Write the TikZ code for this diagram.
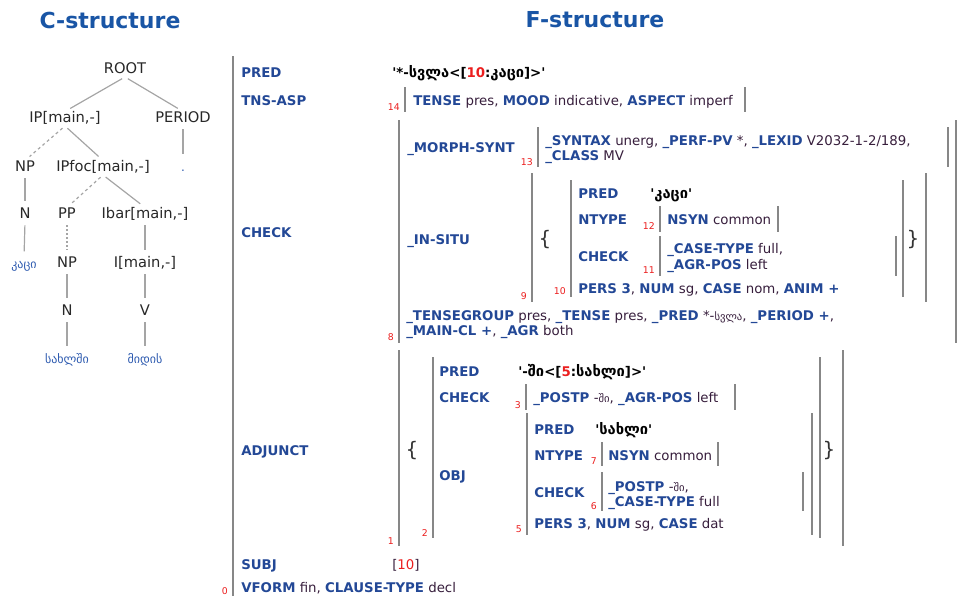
\documentclass[tikz,border=0pt]{standalone}
\usepackage{fontspec}
\setmainfont{DejaVu Sans}
\usetikzlibrary{positioning}
\definecolor{attrblue}{RGB}{35,72,150}
\definecolor{titleblue}{RGB}{25,85,165}
\definecolor{valcol}{RGB}{55,30,60}
\definecolor{idxred}{RGB}{235,30,30}
\definecolor{barcol}{RGB}{135,135,135}
\definecolor{leafblue}{RGB}{45,90,175}
\definecolor{treegray}{RGB}{165,165,165}
\definecolor{treetext}{RGB}{40,40,40}

\newcommand{\fatt}[1]{{\bfseries\color{attrblue}#1}}
\newcommand{\fpred}[1]{{\bfseries\color{black}#1}}
\newcommand{\fidx}[1]{{\color{idxred}#1}}
\newcommand{\kfont}{\fontsize{8}{10}\selectfont}
\newcommand{\kbig}{\fontsize{11}{12}\selectfont}
\newcommand{\q}{\textquotesingle}

\begin{document}
\begin{tikzpicture}[x=0.75pt,y=-0.75pt,
  title/.style={font=\fontsize{16.5}{20}\selectfont\bfseries, text=titleblue},
  cnode/.style={font=\fontsize{11}{13}\selectfont, text=treetext, inner sep=0pt, text height=8pt, text depth=2.5pt, yshift=-1.3pt},
  leaf/.style={font=\fontsize{9}{11}\selectfont, text=leafblue, inner sep=0pt, text height=8pt, text depth=2.5pt, yshift=-1.3pt},
  cedge/.style={treegray, line width=0.9pt, shorten <=2.5pt, shorten >=4.5pt},
  ftxt/.style={font=\fontsize{10}{12}\selectfont, text=valcol, anchor=mid west, inner sep=0pt, yshift=-1.5pt},
  fnum/.style={font=\fontsize{7}{8}\selectfont, text=idxred, anchor=south east, inner sep=0pt},
  fbar/.style={barcol, line width=1.6pt},
  brc/.style={font=\fontsize{15}{17}\selectfont, text=black!80, inner sep=0pt}]
\useasboundingbox (0,0) rectangle (957,596);

% Titles
\node[title] (ctitle) at (110,20) {C-structure};
\node[title] (ftitle) at (595,20) {F-structure};

% C-structure
\node[cnode] (root) at (125,68) {ROOT};
\node[cnode] (ip) at (65,117) {IP[main,-]};
\node[cnode] (period) at (183,117) {PERIOD};
\node[cnode] (np1) at (25,166) {NP};
\node[cnode] (ipfoc) at (103,166) {IPfoc[main,-]};
\node[leaf] (dot) at (183,166) {.};
\node[cnode] (n1) at (25,213) {N};
\node[cnode] (pp) at (67,213) {PP};
\node[cnode] (ibar) at (145,213) {Ibar[main,-]};
\node[leaf] (kaci) at (24,263) {კაცი};
\node[cnode] (np2) at (67,262) {NP};
\node[cnode] (imain) at (145,262) {I[main,-]};
\node[cnode] (n2) at (67,310) {N};
\node[cnode] (v) at (145,310) {V};
\node[leaf] (sakhlshi) at (67,358) {სახლში};
\node[leaf] (midis) at (145,358) {მიდის};

\draw[cedge] (root.south) -- (ip.north);
\draw[cedge] (root.south) -- (period.north);
\draw[cedge, dash pattern=on 2.2pt off 2.2pt] (ip.south) -- (np1.north);
\draw[cedge] (ip.south) -- (ipfoc.north);
\draw[cedge] (period.south) -- (dot.north);
\draw[cedge] (np1.south) -- (n1.north);
\draw[cedge, dash pattern=on 2.2pt off 2.2pt] (ipfoc.south) -- (pp.north);
\draw[cedge] (ipfoc.south) -- (ibar.north);
\draw[cedge] (n1.south) -- (kaci.north);
\draw[cedge, dash pattern=on 1.5pt off 1.5pt] (pp.south) -- (np2.north);
\draw[cedge] (ibar.south) -- (imain.north);
\draw[cedge] (np2.south) -- (n2.north);
\draw[cedge] (imain.south) -- (v.north);
\draw[cedge] (n2.south) -- (sakhlshi.north);
\draw[cedge] (v.south) -- (midis.north);

% F-structure 0
\draw[fbar] (233,56) -- (233,596);
\node[fnum] (i0) at (228,595) {0};
\node[ftxt] (pred0) at (241,72) {\fatt{PRED}};
\node[ftxt] (predv0) at (392,72) {\fpred{\q*-{\kbig სვლა}<[\fidx{10}:{\kbig კაცი}]>\q}};
\node[ftxt] (tns0) at (241,100) {\fatt{TNS-ASP}};
\draw[fbar] (405,87) -- (405,112);
\node[fnum] (i14) at (400,111) {14};
\node[ftxt] (tnsv) at (413,100) {\fatt{TENSE} pres, \fatt{MOOD} indicative, \fatt{ASPECT} imperf};
\draw[fbar] (745,87) -- (745,112);

% CHECK 8
\node[ftxt] (check0) at (241,232) {\fatt{CHECK}};
\draw[fbar] (399,120) -- (399,343);
\node[fnum] (i8) at (394,341) {8};
\draw[fbar] (956,120) -- (956,343);
\node[ftxt] (morph) at (407,147) {\fatt{\_MORPH-SYNT}};
\draw[fbar] (538,127) -- (538,167);
\node[fnum] (i13) at (533,166) {13};
\node[ftxt] (morph1) at (545,140) {\fatt{\_SYNTAX} unerg, \fatt{\_PERF-PV} *, \fatt{\_LEXID} V2032-1-2/189,};
\node[ftxt] (morph2) at (545,155) {\fatt{\_CLASS} MV};
\draw[fbar] (948,127) -- (948,167);

% _IN-SITU 9
\node[ftxt] (insitu) at (407,239) {\fatt{\_IN-SITU}};
\draw[fbar] (532,173) -- (532,302);
\node[fnum] (i9) at (527,300) {9};
\node[brc] (lb1) at (545,240) {\{};
\draw[fbar] (571,180) -- (571,297);
\node[fnum] (i10) at (566,295) {10};
\node[ftxt] (pred10) at (578,193) {\fatt{PRED}};
\node[ftxt] (predv10) at (650,193) {\fpred{\q{\kbig კაცი}\q}};
\node[ftxt] (ntype10) at (578,219) {\fatt{NTYPE}};
\draw[fbar] (660,206) -- (660,232);
\node[fnum] (i12) at (655,230) {12};
\node[ftxt] (nsyn10) at (667,219) {\fatt{NSYN} common};
\draw[fbar] (778,206) -- (778,232);
\node[ftxt] (check10) at (578,256) {\fatt{CHECK}};
\draw[fbar] (660,236) -- (660,276);
\node[fnum] (i11) at (655,274) {11};
\node[ftxt] (check10a) at (667,248) {\fatt{\_CASE-TYPE} full,};
\node[ftxt] (check10b) at (667,264) {\fatt{\_AGR-POS} left};
\draw[fbar] (896,236) -- (896,276);
\node[ftxt] (pers10) at (578,288) {\fatt{PERS 3}, \fatt{NUM} sg, \fatt{CASE} nom, \fatt{ANIM +}};
\draw[fbar] (903,180) -- (903,297);
\node[brc] (rb1) at (913,240) {\}};
\draw[fbar] (926,173) -- (926,302);

% _TENSEGROUP
\node[ftxt] (tg1) at (406,315) {\fatt{\_TENSEGROUP} pres, \fatt{\_TENSE} pres, \fatt{\_PRED} *-{\kfont სვლა}, \fatt{\_PERIOD +},};
\node[ftxt] (tg2) at (406,330) {\fatt{\_MAIN-CL +}, \fatt{\_AGR} both};

% ADJUNCT 1
\node[ftxt] (adj) at (241,450) {\fatt{ADJUNCT}};
\draw[fbar] (399,350) -- (399,546);
\node[fnum] (i1) at (394,545) {1};
\node[brc] (lb2) at (412,451) {\{};
\draw[fbar] (433,357) -- (433,538);
\node[fnum] (i2) at (428,537) {2};
\node[ftxt] (pred2) at (439,371) {\fatt{PRED}};
\node[ftxt] (predv2) at (518,371) {\fpred{\q-{\kbig ში}<[\fidx{5}:{\kbig სახლი}]>\q}};
\node[ftxt] (check2) at (439,397) {\fatt{CHECK}};
\draw[fbar] (526,384) -- (526,410);
\node[fnum] (i3) at (521,409) {3};
\node[ftxt] (check2v) at (533,397) {\fatt{\_POSTP} -{\kfont ში}, \fatt{\_AGR-POS} left};
\draw[fbar] (735,384) -- (735,410);
\node[ftxt] (obj) at (439,475) {\fatt{OBJ}};

% OBJ 5
\draw[fbar] (527,413) -- (527,535);
\node[fnum] (i5) at (522,533) {5};
\node[ftxt] (pred5) at (534,429) {\fatt{PRED}};
\node[ftxt] (predv5) at (595,429) {\fpred{\q{\kbig სახლი}\q}};
\node[ftxt] (ntype5) at (534,455) {\fatt{NTYPE}};
\draw[fbar] (602,442) -- (602,466);
\node[fnum] (i7) at (597,465) {7};
\node[ftxt] (nsyn5) at (608,455) {\fatt{NSYN} common};
\draw[fbar] (718,442) -- (718,466);
\node[ftxt] (check5) at (534,492) {\fatt{CHECK}};
\draw[fbar] (602,472) -- (602,511);
\node[fnum] (i6) at (597,510) {6};
\node[ftxt] (check5a) at (608,486) {\fatt{\_POSTP} -{\kfont ში},};
\node[ftxt] (check5b) at (608,501) {\fatt{\_CASE-TYPE} full};
\draw[fbar] (803,472) -- (803,511);
\node[ftxt] (pers5) at (534,523) {\fatt{PERS 3}, \fatt{NUM} sg, \fatt{CASE} dat};
\draw[fbar] (812,413) -- (812,535);
\draw[fbar] (820,357) -- (820,538);
\node[brc] (rb2) at (829,451) {\}};
\draw[fbar] (843,350) -- (843,546);

% SUBJ and the rest
\node[ftxt] (subj) at (241,564) {\fatt{SUBJ}};
\node[ftxt] (subjv) at (392,564) {[\fidx{10}]};
\node[ftxt] (vform) at (241,587) {\fatt{VFORM} fin, \fatt{CLAUSE-TYPE} decl};
\end{tikzpicture}
\end{document}
